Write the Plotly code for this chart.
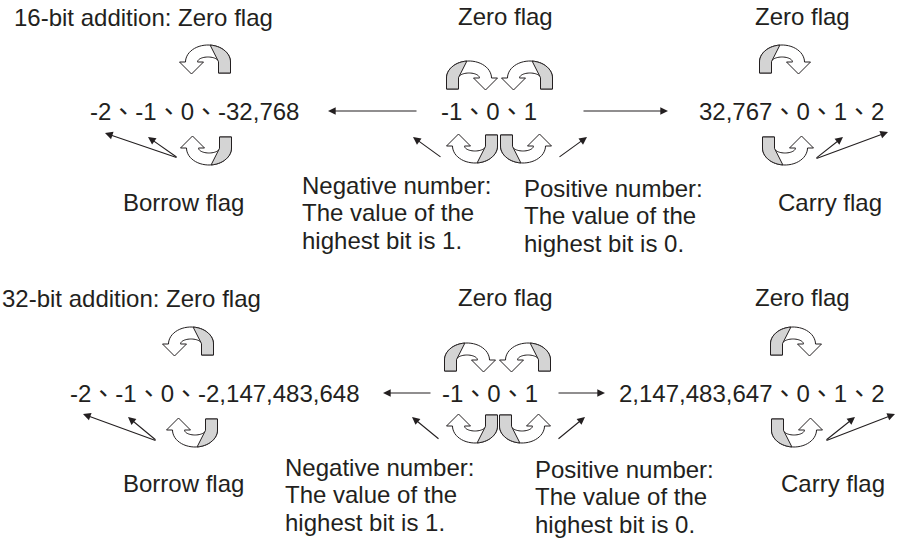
import numpy as np
import plotly.graph_objects as go

W, H = 897, 540
FONT = "Liberation Sans, Arial, Noto Sans CJK TC, sans-serif"
INK = "#231f20"
FS = 24

# ---------------- text content ----------------
header_labels = ["16-bit addition: Zero flag", "Zero flag", "Zero flag",
                 "32-bit addition: Zero flag", "Zero flag", "Zero flag"]
value_labels = ["-2、-1、0、-32,768", "-1、0、1", "32,767、0、1、2",
                "-2、-1、0、-2,147,483,648", "-1、0、1", "2,147,483,647、0、1、2"]
flag_labels = ["Borrow flag", "Carry flag", "Borrow flag", "Carry flag"]
note_neg = ["Negative number:", "The value of the", "highest bit is 1."]
note_pos = ["Positive number:", "The value of the", "highest bit is 0."]

# ---------------- positions (pixels) ----------------
header_xy = [(12, 17, "left"), (505, 16, "center"), (802, 16, "center"),
             (0, 298, "left"), (505, 297, "center"), (802, 297, "center")]
value_xy = [(88, 111, "left"), (489, 111, "center"), (697, 111, "left"),
            (68, 393, "left"), (490, 393, "center"), (617, 393, "left")]
flag_xy = [(183, 202), (830, 202), (183, 483), (833, 483)]
note_blocks = [(note_neg, 300, 185), (note_pos, 522, 188),
               (note_neg, 283, 467), (note_pos, 533, 469)]
LINE_GAP = 27.5

# curved ribbon arrows: (cx, cy, kind 'n'=arc above / 'u'=arc below, tail side)
ribbons = [
    (208, 62, "n", "r"), (469, 78, "n", "l"), (530, 78, "n", "r"), (782, 62, "n", "l"),
    (209, 148, "u", "r"), (475, 146, "u", "r"), (523, 146, "u", "l"), (785, 148, "u", "l"),
    (191, 344, "n", "r"), (467, 360, "n", "l"), (528, 360, "n", "r"), (793, 344, "n", "l"),
    (195, 430, "u", "r"), (475, 426, "u", "r"), (522, 426, "u", "l"), (794, 430, "u", "l"),
]

# straight arrows: (tail_x, tail_y, tip_x, tip_y)
arrows = [
    (418, 111, 328, 111), (582, 111, 668, 111),
    (178, 158, 105, 133), (178, 158, 148, 137),
    (442, 158, 413, 137), (558, 158, 587, 137),
    (815, 159, 843, 137), (815, 159, 888, 132),
    (432, 393, 383, 393), (557, 393, 605, 393),
    (157, 441, 83, 414), (157, 441, 128, 417),
    (440, 440, 412, 417), (557, 440, 585, 417),
    (825, 441, 855, 417), (825, 441, 895, 414),
]


def ribbon_paths(cx, cy, kind, tail, rx=16.5, ry=11, w=12, L=11, hh=12, hw=12, n=28):
    s = -1 if kind == "n" else 1
    d = 1 if tail == "r" else -1
    rxo, ryo, rxi, ryi = rx + w / 2, ry + w / 2, rx - w / 2, ry - w / 2
    pts = [(cx + d * rxo, cy - s * L), (cx + d * rxo, cy)]
    for t in np.linspace(0, np.pi, n):
        pts.append((cx + d * rxo * np.cos(t), cy + s * ryo * np.sin(t)))
    pts += [(cx - d * (rx + hw), cy), (cx - d * rx, cy - s * hh), (cx - d * (rx - hw), cy)]
    for t in np.linspace(np.pi, 0, n):
        pts.append((cx + d * rxi * np.cos(t), cy + s * ryi * np.sin(t)))
    pts.append((cx + d * rxi, cy - s * L))

    gray = [(cx + d * rxo, cy - s * L)]
    for t in np.linspace(0, 0.47 * np.pi, n // 2):
        gray.append((cx + d * rxo * np.cos(t), cy + s * ryo * np.sin(t)))
    for t in np.linspace(0.12 * np.pi, 0, n // 3):
        gray.append((cx + d * rxi * np.cos(t), cy + s * ryi * np.sin(t)))
    gray.append((cx + d * rxi, cy - s * L))

    def to_path(p):
        return "M " + " L ".join(f"{x:.2f},{y:.2f}" for x, y in p) + " Z"

    return to_path(pts), to_path(gray)


fig = go.Figure()
fig.add_trace(go.Scatter(x=[0, W], y=[0, H], mode="markers",
                         marker=dict(opacity=0), hoverinfo="skip", showlegend=False))

shapes = []
for cx, cy, kind, tail in ribbons:
    body, gray = ribbon_paths(cx, cy, kind, tail)
    shapes.append(dict(type="path", path=body, xref="x", yref="y",
                       fillcolor="white", line=dict(color=INK, width=1)))
    shapes.append(dict(type="path", path=gray, xref="x", yref="y",
                       fillcolor="#d4d4d4", line=dict(color=INK, width=1)))

ann = []


def text(x, y, s, anchor="left"):
    ann.append(dict(x=x, y=y, xref="x", yref="y", text=s, showarrow=False,
                    xanchor=anchor, yanchor="middle",
                    font=dict(family=FONT, size=FS, color=INK)))


for s, (x, y, a) in zip(header_labels, header_xy):
    text(x, y, s, a)
for s, (x, y, a) in zip(value_labels, value_xy):
    text(x, y, s, a)
for s, (x, y) in zip(flag_labels, flag_xy):
    text(x, y, s, "center")
for lines, x, y in note_blocks:
    for i, s in enumerate(lines):
        text(x, y + i * LINE_GAP, s, "left")

for tx, ty, hx, hy in arrows:
    ann.append(dict(x=hx, y=hy, ax=tx, ay=ty, xref="x", yref="y", axref="x", ayref="y",
                    text="", showarrow=True, arrowhead=2, arrowsize=1.4,
                    arrowwidth=1.1, arrowcolor=INK, standoff=0, startstandoff=0))

fig.update_layout(
    width=W, height=H, margin=dict(l=0, r=0, t=0, b=0),
    paper_bgcolor="white", plot_bgcolor="white",
    xaxis=dict(range=[0, W], visible=False, fixedrange=True),
    yaxis=dict(range=[H, 0], visible=False, fixedrange=True),
    shapes=shapes, annotations=ann, showlegend=False,
)

fig.write_html("out.html", config={"displayModeBar": False},
               post_script="document.body.style.margin='0';document.body.style.overflow='hidden';")
